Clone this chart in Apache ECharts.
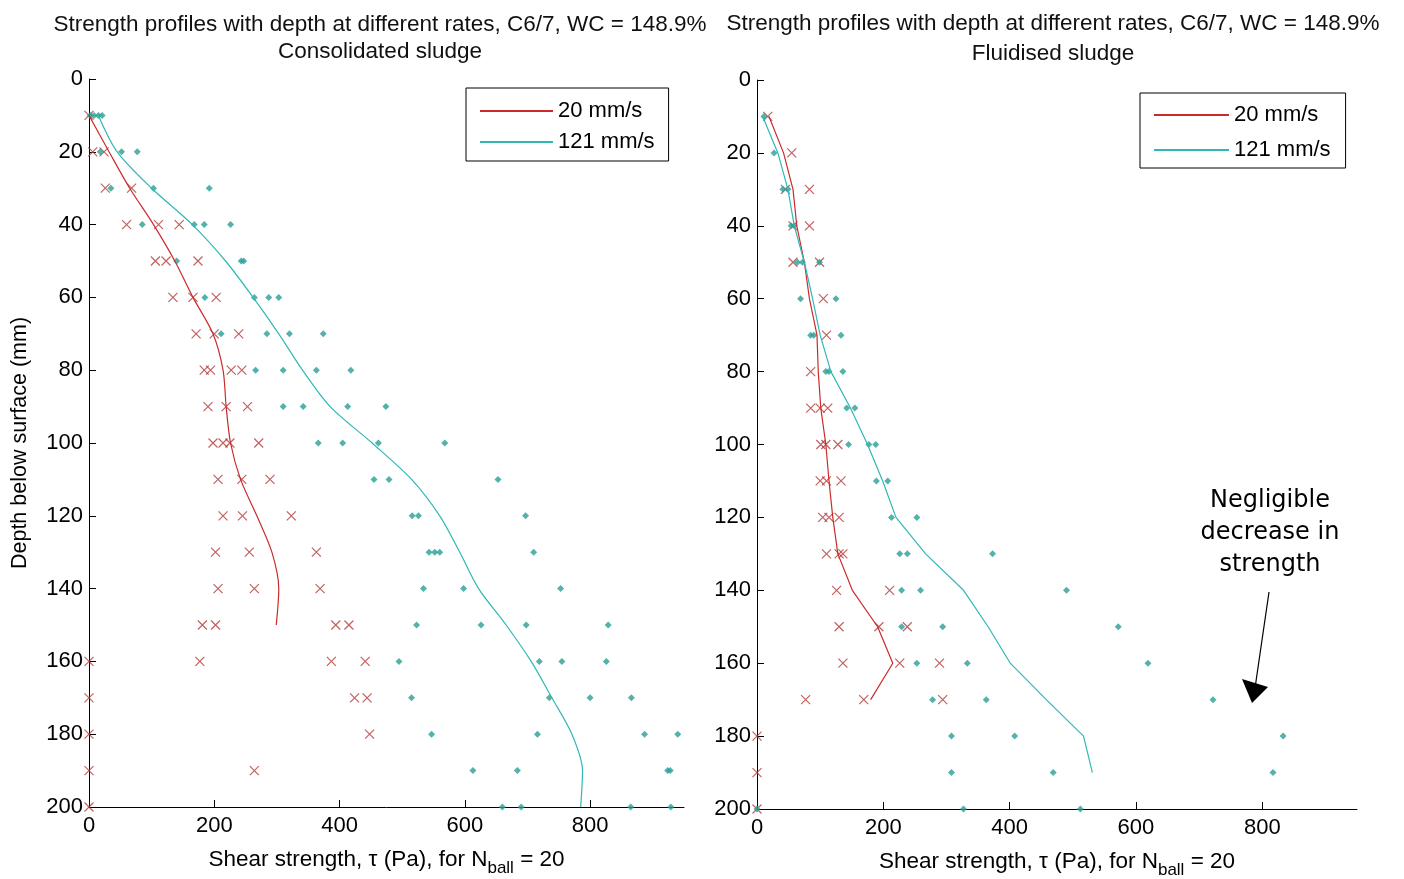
<!DOCTYPE html>
<html>
<head>
<meta charset="utf-8">
<script src="https://cdn.jsdelivr.net/npm/echarts@6/dist/echarts.min.js"></script>
<style>
html,body{margin:0;padding:0;background:#fff;}
#c{width:1404px;height:879px;}
</style>
</head>
<body>
<div id="c"></div>
<script>
// ---- Data: [shear strength (Pa), depth (mm)] ----
// Consolidated sludge, 20 mm/s (red crosses)
const consRed = [
[0,10],
[6,20],[24,20],
[26,30],[68,30],
[60,40],[111,40],[144,40],
[106,50],[123,50],[174,50],
[134,60],[166,60],[203,60],
[171,70],[200,70],[239,70],
[184,80],[194,80],[227,80],[244,80],
[190,90],[219,90],[253,90],
[198,100],[214,100],[225,100],[271,100],
[206,110],[244,110],[289,110],
[214,120],[245,120],[323,120],
[202,130],[256,130],[363,130],
[206,140],[264,140],[369,140],
[181,150],[202,150],[394,150],[415,150],
[0,160],[177,160],[387,160],[441,160],
[0,170],[424,170],[444,170],
[0,180],[448,180],
[0,190],[264,190],
[0,200]
];
// Consolidated sludge, 121 mm/s (cyan points)
const consCyan = [
[2,10],[8,10],[15,10],[21,10],
[18,20],[52,20],[77,20],
[35,30],[103,30],[192,30],
[85,40],[168,40],[184,40],[226,40],
[140,50],[243,50],[247,50],
[185,60],[264,60],[287,60],[303,60],
[211,70],[284,70],[320,70],[374,70],
[266,80],[310,80],[363,80],[418,80],
[310,90],[342,90],[413,90],[474,90],
[366,100],[405,100],[462,100],[568,100],
[455,110],[479,110],[653,110],
[516,120],[526,120],[697,120],
[543,130],[552,130],[560,130],[710,130],
[534,140],[598,140],[753,140],
[523,150],[626,150],[698,150],[829,150],
[495,160],[719,160],[755,160],[826,160],
[515,170],[735,170],[800,170],[866,170],
[547,180],[716,180],[887,180],[940,180],
[613,190],[684,190],[924,190],[928,190],
[660,200],[690,200],[865,200],[929,200]
];
// Consolidated sludge profile lines
const consRedLine = [[0,10],[32,20],[65,30],[103,40],[137,50],[166,60],[198,70],[214,80],[219,90],[226,100],[242,110],[268,120],[292,130],[303,140],[299,150]];
const consCyanLine = [[15,10],[45,20],[100,30],[165,40],[218,50],[262,60],[303,70],[341,80],[385,90],[452,100],[515,110],[560,120],[592,130],[622,140],[666,150],[706,160],[739,170],[771,180],[788,190],[785,200]];

// Fluidised sludge, 20 mm/s
const fluidRed = [
[17,10],
[55,20],
[45,30],[83,30],
[57,40],[83,40],
[57,50],[99,50],
[105,60],
[110,70],
[85,80],
[85,90],[100,90],[112,90],
[101,100],[109,100],[128,100],
[100,110],[110,110],[133,110],
[104,120],[114,120],[130,120],
[110,130],[130,130],[136,130],
[126,140],[210,140],
[130,150],[193,150],[238,150],
[136,160],[226,160],[289,160],
[77,170],[169,170],[294,170],
[0,180],
[0,190],
[0,200]
];
// Fluidised sludge, 121 mm/s
const fluidCyan = [
[11,10],
[27,20],
[41,30],[49,30],
[54,40],[59,40],
[64,50],[72,50],[99,50],
[69,60],[125,60],
[85,70],[90,70],[133,70],
[109,80],[114,80],[136,80],
[142,90],[155,90],
[145,100],[177,100],[188,100],
[189,110],[207,110],
[213,120],[253,120],
[226,130],[238,130],[373,130],
[229,140],[259,140],[490,140],
[229,150],[294,150],[572,150],
[253,160],[333,160],[619,160],
[278,170],[363,170],[722,170],
[308,180],[408,180],[833,180],
[308,190],[469,190],[817,190],
[0,200],[327,200],[512,200]
];
const fluidRedLine = [[19,10],[42,20],[57,30],[63,40],[75,50],[83,60],[95,70],[97,80],[101,90],[109,100],[114,110],[120,120],[128,130],[151,140],[191,150],[215,160],[180,170]];
const fluidCyanLine = [[9,10],[33,20],[49,30],[59,40],[75,50],[88,60],[100,70],[117,80],[148,90],[175,100],[199,110],[220,120],[267,130],[327,140],[366,150],[401,160],[458,170],[517,180],[531,190]];

const xTicks = [0,200,400,600,800];
const titleMain = 'Strength profiles with depth at different rates, C6/7, WC = 148.9%';
const titleSub = ['Consolidated sludge','Fluidised sludge'];
const legendNames = ['20 mm/s','121 mm/s'];
const noteText = 'Negligible\ndecrease in\nstrength';

// ---- Styles ----
const FONT = 'Liberation Sans';
const RED = '#cc2a2a';
const CYAN = '#2fb8b4';
const XMARK = '#b23a3a';
const DOT = '#2a9f95';
const crossPath = 'path://M0,0L10,10M10,0L0,10';

const chart = echarts.init(document.getElementById('c'));

function xAxisFor(gi){
  return {
    type:'value', gridIndex:gi, min:0, max:950, interval:200,
    axisLine:{show:true, onZero:false, lineStyle:{color:'#000', width:1}},
    axisTick:{show:true, inside:true, length:7, customValues:xTicks, lineStyle:{color:'#000'}},
    axisLabel:{customValues:xTicks, color:'#000', fontFamily:FONT, fontSize:22, margin:8},
    splitLine:{show:false},
    name: 'Shear strength, τ (Pa), for N{sub|ball} = 20',
    nameLocation:'middle', nameGap:36,
    nameTextStyle:{color:'#000', fontFamily:FONT, fontSize:22.5, rich:{sub:{fontFamily:FONT, fontSize:17, color:'#000', verticalAlign:'bottom', lineHeight:34}}}
  };
}
function yAxisFor(gi, withName){
  const a = {
    type:'value', gridIndex:gi, inverse:true, min:0, max:200, interval:20,
    axisLine:{show:true, onZero:false, lineStyle:{color:'#000', width:1}},
    axisTick:{show:true, inside:true, length:7, lineStyle:{color:'#000'}},
    axisLabel:{color:'#000', fontFamily:FONT, fontSize:22, margin:6},
    splitLine:{show:false}
  };
  if (withName){
    a.name = 'Depth below surface (mm)';
    a.nameLocation = 'middle';
    a.nameGap = 58;
    a.nameTextStyle = {color:'#000', fontFamily:FONT, fontSize:21.5};
  }
  return a;
}
function lineSeries(name, data, color, xi, smooth){
  return {type:'line', name:name, data:data, xAxisIndex:xi, yAxisIndex:xi,
    symbol:'none', smooth:smooth, lineStyle:{color:color, width:1.2}, itemStyle:{color:color}, z:3};
}
function crossSeries(data, xi){
  return {type:'scatter', name:'20 mm/s data', data:data, xAxisIndex:xi, yAxisIndex:xi,
    symbol:crossPath, symbolSize:9,
    itemStyle:{color:'rgba(0,0,0,0)', borderColor:XMARK, borderWidth:1.2}, z:2};
}
function dotSeries(data, xi){
  return {type:'scatter', name:'121 mm/s data', data:data, xAxisIndex:xi, yAxisIndex:xi,
    symbol:'diamond', symbolSize:7, itemStyle:{color:DOT}, z:2};
}
function legendFor(left, top, pad, itemW, gap){
  return {data:legendNames, left:left, top:top, orient:'vertical', backgroundColor:'#fff',
    borderColor:'#000', borderWidth:1, borderRadius:0, padding:pad,
    itemWidth:itemW, itemHeight:14, itemGap:gap,
    itemStyle:{opacity:0},
    textStyle:{fontFamily:FONT, fontSize:22, color:'#000'}};
}

const titleStyle = {fontFamily:FONT, fontSize:22.5, fontWeight:'normal', color:'#111', lineHeight:27};
const titleStyleR = Object.assign({}, titleStyle, {lineHeight:30});
const option = {
  backgroundColor:'#fff',
  animation:false,
  textStyle:{fontFamily:FONT},
  title:[
    {text: titleMain + '\n' + titleSub[0], left:375, top:6, textAlign:'center', textStyle:titleStyle},
    {text: titleMain + '\n' + titleSub[1], left:1048, top:4, textAlign:'center', textStyle:titleStyleR}
  ],
  grid:[
    {left:89, top:79, width:595, height:728, outerBoundsMode:'none', containLabel:false},
    {left:757, top:80, width:600, height:729, outerBoundsMode:'none', containLabel:false}
  ],
  xAxis:[xAxisFor(0), xAxisFor(1)],
  yAxis:[yAxisFor(0,true), yAxisFor(1,false)],
  legend:[
    legendFor(466, 88, [12,14,8,13], 73, 9),
    legendFor(1140, 93, [11,15,7,13], 75, 13)
  ],
  series:[
    crossSeries(consRed,0), dotSeries(consCyan,0),
    lineSeries(legendNames[0], consRedLine, RED, 0, 0.3),
    lineSeries(legendNames[1], consCyanLine, CYAN, 0, 0.3),
    crossSeries(fluidRed,1), dotSeries(fluidCyan,1),
    lineSeries(legendNames[0], fluidRedLine, RED, 1, false),
    lineSeries(legendNames[1], fluidCyanLine, CYAN, 1, false)
  ],
  graphic:[
    {type:'text', x:1270, y:485, style:{text:noteText, font:'24px "DejaVu Sans"', fill:'#000', align:'center', verticalAlign:'top', lineHeight:32}},
    {type:'line', shape:{x1:1269, y1:592, x2:1255, y2:688}, style:{stroke:'#000', lineWidth:1.2}},
    {type:'polygon', shape:{points:[[1242,679],[1268,687],[1252,703]]}, style:{fill:'#000'}}
  ]
};
chart.setOption(option);
</script>
</body>
</html>
